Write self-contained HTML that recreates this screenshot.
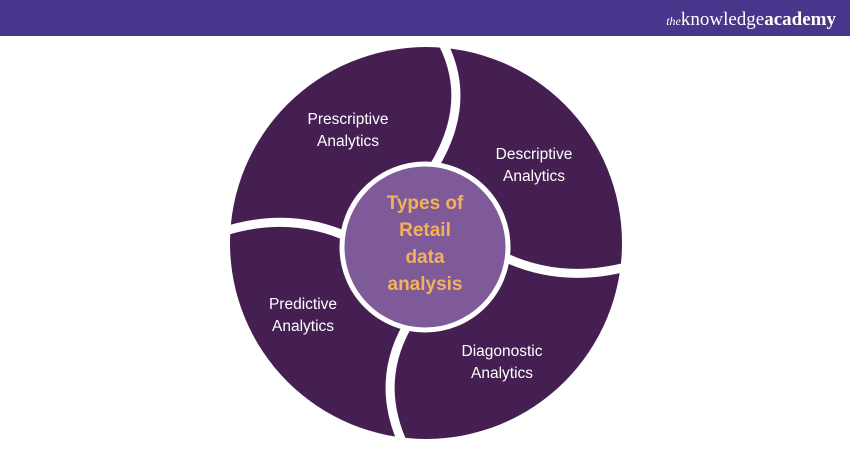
<!DOCTYPE html>
<html><head><style>
body{margin:0;width:850px;height:450px;background:#fff;overflow:hidden;font-family:"Liberation Sans",sans-serif}
</style></head><body>
<svg width="850" height="450" xmlns="http://www.w3.org/2000/svg">
<rect x="0" y="0" width="850" height="36" fill="#47368c"/>
<text x="836" y="25" text-anchor="end" font-family="Liberation Serif,serif" font-size="19" fill="#fff"><tspan font-style="italic" font-size="12">the</tspan>knowledge<tspan font-weight="bold">academy</tspan></text>
<circle cx="426" cy="243" r="196" fill="#451f52"/>
<g fill="none" stroke="#fff" stroke-width="9">
<path d="M440,38 Q475,100 433,168"/>
<path d="M500,255 Q560,285 630,266"/>
<path d="M412,318 Q372,380 405,448"/>
<path d="M222,232 Q290,210 350,238"/>
</g>
<circle cx="425" cy="247" r="83" fill="#7e5b98" stroke="#fff" stroke-width="5"/>
<g fill="#fff" font-size="15.5" text-anchor="middle">
<text x="348" y="124">Prescriptive</text><text x="348" y="146">Analytics</text>
<text x="534" y="159">Descriptive</text><text x="534" y="181">Analytics</text>
<text x="303" y="309">Predictive</text><text x="303" y="331">Analytics</text>
<text x="502" y="356">Diagonostic</text><text x="502" y="378">Analytics</text>
</g>
<g fill="#f5b15a" font-size="19" font-weight="bold" text-anchor="middle">
<text x="425" y="209">Types of</text><text x="425" y="236">Retail</text>
<text x="425" y="263">data</text><text x="425" y="290">analysis</text>
</g>
</svg>
</body></html>
